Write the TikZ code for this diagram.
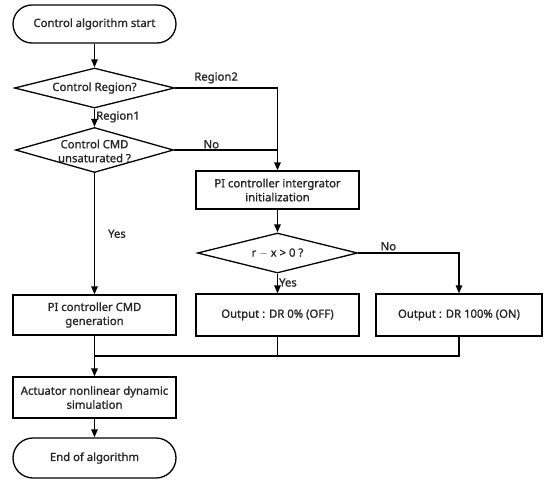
\documentclass[tikz,border=0pt]{standalone}
\usepackage{fontspec}
\setmainfont[FakeBold=0]{Noto Sans}
\newfontfamily\chartfont[FakeBold=1.2]{Noto Sans}
\usepackage{tikz}
\usetikzlibrary{arrows,arrows.meta,shapes.geometric,calc}

\begin{document}
\begin{tikzpicture}[x=1pt,y=-1pt,>={Triangle[length=8pt,width=6.5pt]},line width=1.3pt,
  every node/.style={font=\chartfont\fontsize{11.3}{14}\selectfont,text=black!85},
  term/.style={draw,rectangle,rounded corners=19pt,minimum width=163pt,minimum height=38pt,line width=1.3pt},
  proc/.style={draw,rectangle,minimum width=163pt,minimum height=40pt,align=center,line width=1.3pt},
  decision/.style={draw,diamond,minimum width=160pt,minimum height=40pt,inner sep=0pt,line width=1.3pt},
  txt/.style={align=center,inner sep=0pt},
  lbl/.style={inner sep=1pt}]
\useasboundingbox (0,0) rectangle (544,480);
\node[term] (start) at (94.5,24) {Control algorithm start};
\node[decision,label={[txt]center:Control Region?}] (reg) at (94.5,88) {};
\node[decision,minimum width=158pt,minimum height=45pt,
  label={[txt,yshift=-1pt]center:Control CMD\\unsaturated ?}] (sat) at (94.5,150) {};
\node[proc] (pi) at (94.5,315) {PI controller CMD\\generation};
\node[proc,minimum height=41pt] (act) at (94.5,397.5) {Actuator nonlinear dynamic\\simulation};
\node[term,minimum height=40pt,rounded corners=20pt] (end) at (94.5,458) {End of algorithm};
\node[proc,minimum height=38pt] (init) at (277.5,190) {PI controller intergrator\\initialization};
\node[decision,label={[txt]center:r $-$ x > 0 ?}] (rx) at (277.5,253) {};
\node[proc,minimum height=42pt] (out0) at (277.5,315) {Output : DR 0\% (OFF)};
\node[proc,minimum width=166pt,minimum height=42pt] (out100) at (459,315) {Output : DR 100\% (ON)};
\coordinate (mrg) at (94.5,356);

\draw[->] (start) -- (reg);
\draw[->] (reg) -- (sat) node[lbl,pos=0.45,right] (r1) {Region1};
\draw[->] (reg.east) -| (init.north) node[lbl,pos=0.2,above=3pt] (r2) {Region2};
\draw (sat.east) -- (sat.east -| init.north) node[lbl,pos=0.36,above] (no1) {No};
\draw[->] (sat) -- (pi) node[lbl,midway,right=12pt] (yes1) {Yes};
\draw[->] (init) -- (rx);
\draw[->] (rx) -- (out0) node[lbl,pos=0.45,right] (yes2) {Yes};
\draw[->] (rx.east) -| (out100.north) node[lbl,pos=0.15,above=1pt] (no2) {No};
\draw (out100.south) |- (mrg);
\draw (out0.south) -- (out0.south |- mrg);
\draw[->] (pi) -- (act);
\draw[->] (act) -- (end);
\end{tikzpicture}
\end{document}
